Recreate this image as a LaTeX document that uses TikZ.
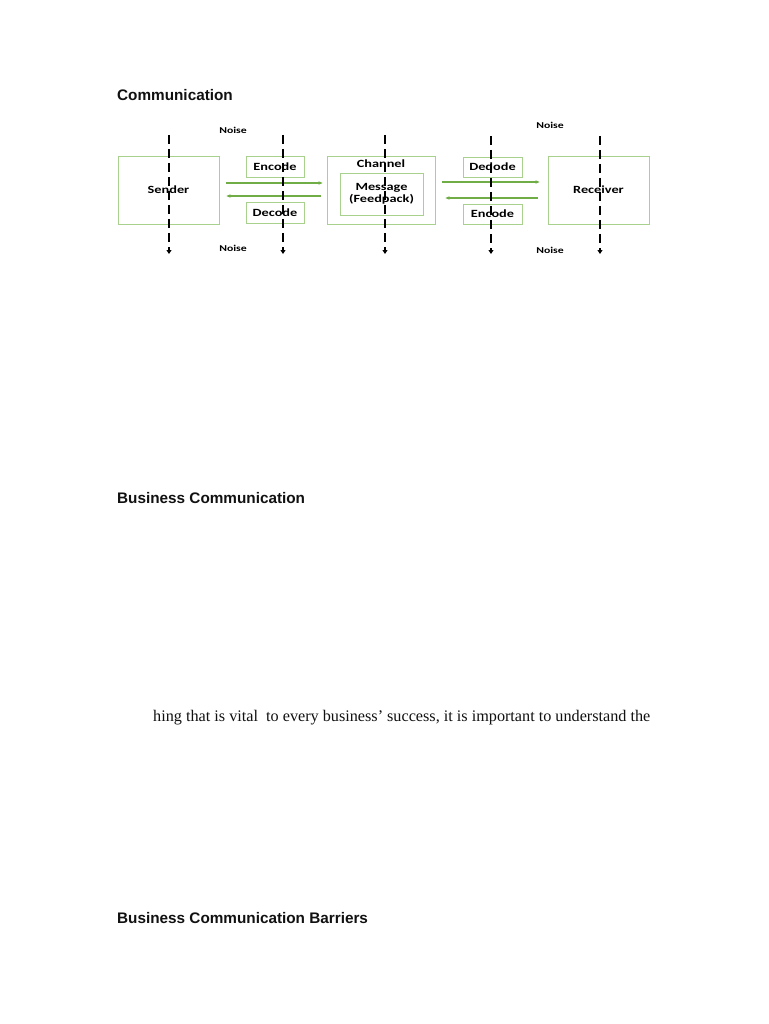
\documentclass[tikz,border=0pt]{standalone}
\usepackage{fontspec}
\setmainfont{Liberation Serif}
\newfontfamily\headfont{Liberation Sans}
\newfontfamily\diagfont[FakeStretch=1.3]{Carlito}
\usetikzlibrary{arrows.meta}
\definecolor{boxgreen}{HTML}{A9D18E}
\definecolor{flowgreen}{HTML}{70AD47}
\definecolor{ink}{HTML}{111111}

\begin{document}
\begin{tikzpicture}[x=1pt, y=-1pt,
  heading/.style={anchor=base west, inner sep=0pt, font=\headfont\bfseries\fontsize{15.3}{18}\selectfont, text=ink},
  body/.style={anchor=base west, inner sep=0pt, font=\fontsize{16.2}{19}\selectfont, text=ink},
  greenbox/.style={draw=boxgreen, line width=0.9pt, inner sep=0pt, align=center, font=\diagfont\bfseries\fontsize{11}{12}\selectfont},
  tag/.style={inner sep=0pt, font=\diagfont\bfseries\fontsize{9}{10}\selectfont},
  flow/.style={flowgreen, line width=1.3pt, -{Stealth[length=4pt, width=3.5pt]}},
  noise/.style={black, line width=2pt, dash pattern=on 9pt off 5pt, -{Triangle[length=4pt, width=5pt]}}]

\fill[white] (0,0) rectangle (768,1024);
\useasboundingbox (0,0) rectangle (768,1024);

% ---------------- headings and text ----------------
\node[heading] (h1) at (117,101) {Communication};
\node[heading] (h2) at (117,503) {Business Communication};
\node[body] (txt) at (153,721) {hing that is vital\ \ to every business’ success, it is important to understand the};
\node[heading] (h3) at (117,923) {Business Communication Barriers};

% ---------------- boxes ----------------
\node[greenbox, minimum width=101pt, minimum height=68pt] (sender) at (168.5,190) {Sender};
\node[greenbox, minimum width=58pt, minimum height=21pt] (enc1) at (275,166.5) {Encode};
\node[greenbox, minimum width=58pt, minimum height=21pt] (dec1) at (275,212.5) {Decode};
\node[greenbox, minimum width=108pt, minimum height=68pt] (channel) at (381,190) {};
\node[tag, font=\diagfont\bfseries\fontsize{11}{12}\selectfont] (chlab) at (381,164) {Channel};
\node[greenbox, minimum width=83pt, minimum height=42pt] (msg) at (381.5,194) {Message\\(Feedpack)};
\node[greenbox, minimum width=59pt, minimum height=20pt] (dec2) at (492.5,167) {Dedode};
\node[greenbox, minimum width=59pt, minimum height=20pt] (enc2) at (492.5,214) {Encode};
\node[greenbox, minimum width=101pt, minimum height=68pt] (receiver) at (598.5,190) {Receiver};

% ---------------- noise labels ----------------
\node[tag] (n1) at (233,130) {Noise};
\node[tag] (n2) at (233,248) {Noise};
\node[tag] (n3) at (550,125) {Noise};
\node[tag] (n4) at (550,250) {Noise};

% ---------------- flow arrows ----------------
\draw[flow] ([xshift=7pt, yshift=7pt]sender.east) -- ([xshift=-4pt, yshift=7pt]channel.west);
\draw[flow] ([xshift=-6pt, yshift=-6pt]channel.west) -- ([xshift=7pt, yshift=-6pt]sender.east);
\draw[flow] ([xshift=7pt, yshift=8pt]channel.east) -- ([xshift=-8pt, yshift=8pt]receiver.west);
\draw[flow] ([xshift=-10pt, yshift=-8pt]receiver.west) -- ([xshift=10pt, yshift=-8pt]channel.east);

% ---------------- noise lines ----------------
\foreach \nx/\nt in {169/135, 283/135, 385/135, 491/136, 600/136}{
  \coordinate (top\nx) at (\nx,\nt);
  \coordinate (bot\nx) at (\nx,254);
  \draw[noise] (top\nx) -- (bot\nx);
}

\end{tikzpicture}
\end{document}
